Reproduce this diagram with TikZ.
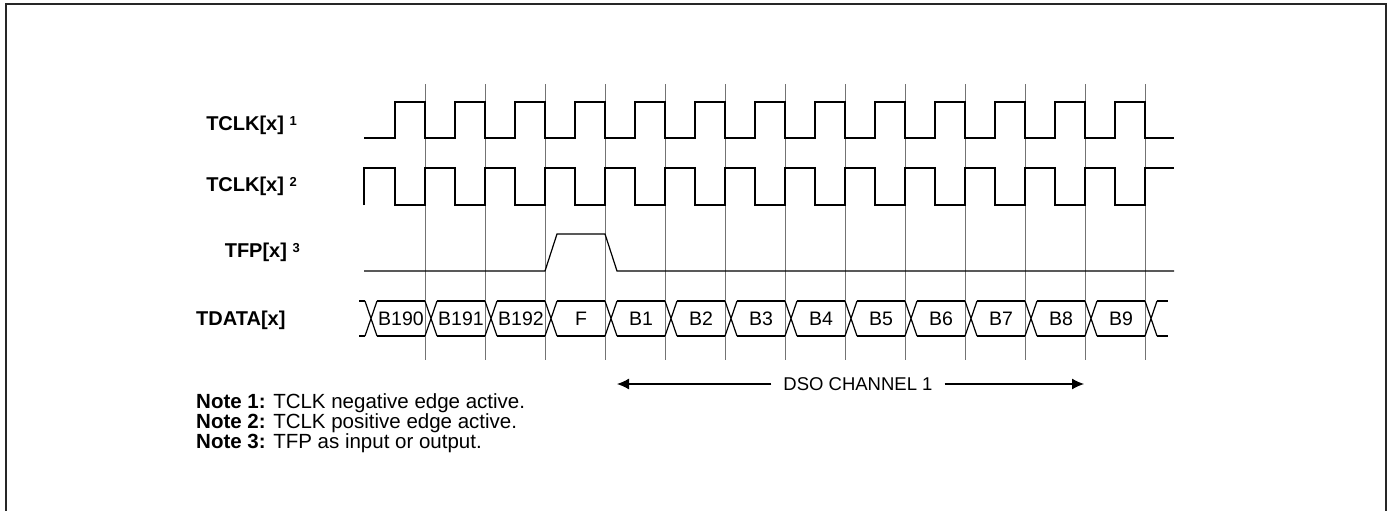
\documentclass[tikz,border=0pt]{standalone}
\usepackage{fontspec}
\setmainfont{Liberation Sans}
\usetikzlibrary{arrows.meta,positioning}
\newcommand{\sigsup}[1]{\raisebox{5pt}{\fontsize{13}{13}\selectfont #1}}

\begin{document}
\begin{tikzpicture}[x=1pt, y=-1pt,
  wave/.style={line width=1.2pt, black},
  gridline/.style={line width=1pt, black!55},
  siglabel/.style={font=\fontsize{20}{24}\selectfont\bfseries, inner sep=0pt},
  datalabel/.style={font=\fontsize{19.5}{24}\selectfont, inner sep=0pt},
  notetext/.style={font=\fontsize{20.5}{20}\selectfont, inner sep=0pt, anchor=base west}]
  \useasboundingbox (0,0) rectangle (1389,511);
  % Frame, open at the bottom
  \draw[line width=2pt, black!85] (6,511) -- (6,4) -- (1386,4) -- (1386,511);

  % Clock grid
  \foreach \g in {425,485,...,1145}
    \draw[gridline] (\g,84) -- (\g,360);

  % Signal names
  \node[siglabel, anchor=base east] (tclkA) at (297,130) {TCLK[x] \sigsup{1}};
  \node[siglabel, anchor=base east] (tclkB) at (297,191) {TCLK[x] \sigsup{2}};
  \node[siglabel, anchor=base east] (tfp) at (300,257) {TFP[x] \sigsup{3}};
  \node[siglabel, anchor=base west] (tdata) at (196,325) {TDATA[x]};

  % TCLK[x] 1
  \draw[wave] (364,138) \foreach \g in {425,485,...,1145} {
    -- (\g-30,138) -- (\g-30,102) -- (\g,102) -- (\g,138) } -- (1174,138);
  % TCLK[x] 2
  \draw[wave] (364,205) -- (364,168) \foreach \g in {425,485,...,1145} {
    -- (\g-30,168) -- (\g-30,205) -- (\g,205) -- (\g,168) } -- (1174,168);
  % TFP[x] 3
  \draw[wave] (364,271) -- (545,271) -- (557,234) -- (605,234) -- (617,271) -- (1174,271);

  % TDATA[x]
  \draw[wave] (359,301) -- (365,301) (359,336) -- (365,336);
  \foreach \g in {365,425,...,1145}
    \draw[wave] (\g,301) -- (\g+12,336) (\g,336) -- (\g+12,301);
  \foreach \lbl [count=\k from 0] in {B190,B191,B192,F,B1,B2,B3,B4,B5,B6,B7,B8,B9} {
    \draw[wave] (377+60*\k,301) -- (425+60*\k,301) (377+60*\k,336) -- (425+60*\k,336);
    \node[datalabel] (d\k) at (401+60*\k,318.5) {\lbl};
  }
  \draw[wave] (1157,301) -- (1168,301) (1157,336) -- (1168,336);

  % DSO channel span
  \node[font=\fontsize{18.5}{22}\selectfont, inner xsep=12pt, inner ysep=0pt] (dso) at (858,384) {DSO CHANNEL 1};
  \coordinate (dsoL) at (617,384);
  \coordinate (dsoR) at (1084,384);
  \draw[-{Latex[length=12pt,width=11pt]}, line width=1.2pt] (dso) -- (dsoL);
  \draw[-{Latex[length=12pt,width=11pt]}, line width=1.2pt] (dso) -- (dsoR);

  % Notes
  \node[notetext] (note1) at (196,408) {\textbf{Note 1:} TCLK negative edge active.};
  \node[notetext] (note2) at (196,428) {\textbf{Note 2:} TCLK positive edge active.};
  \node[notetext] (note3) at (196,448) {\textbf{Note 3:} TFP as input or output.};
\end{tikzpicture}
\end{document}
